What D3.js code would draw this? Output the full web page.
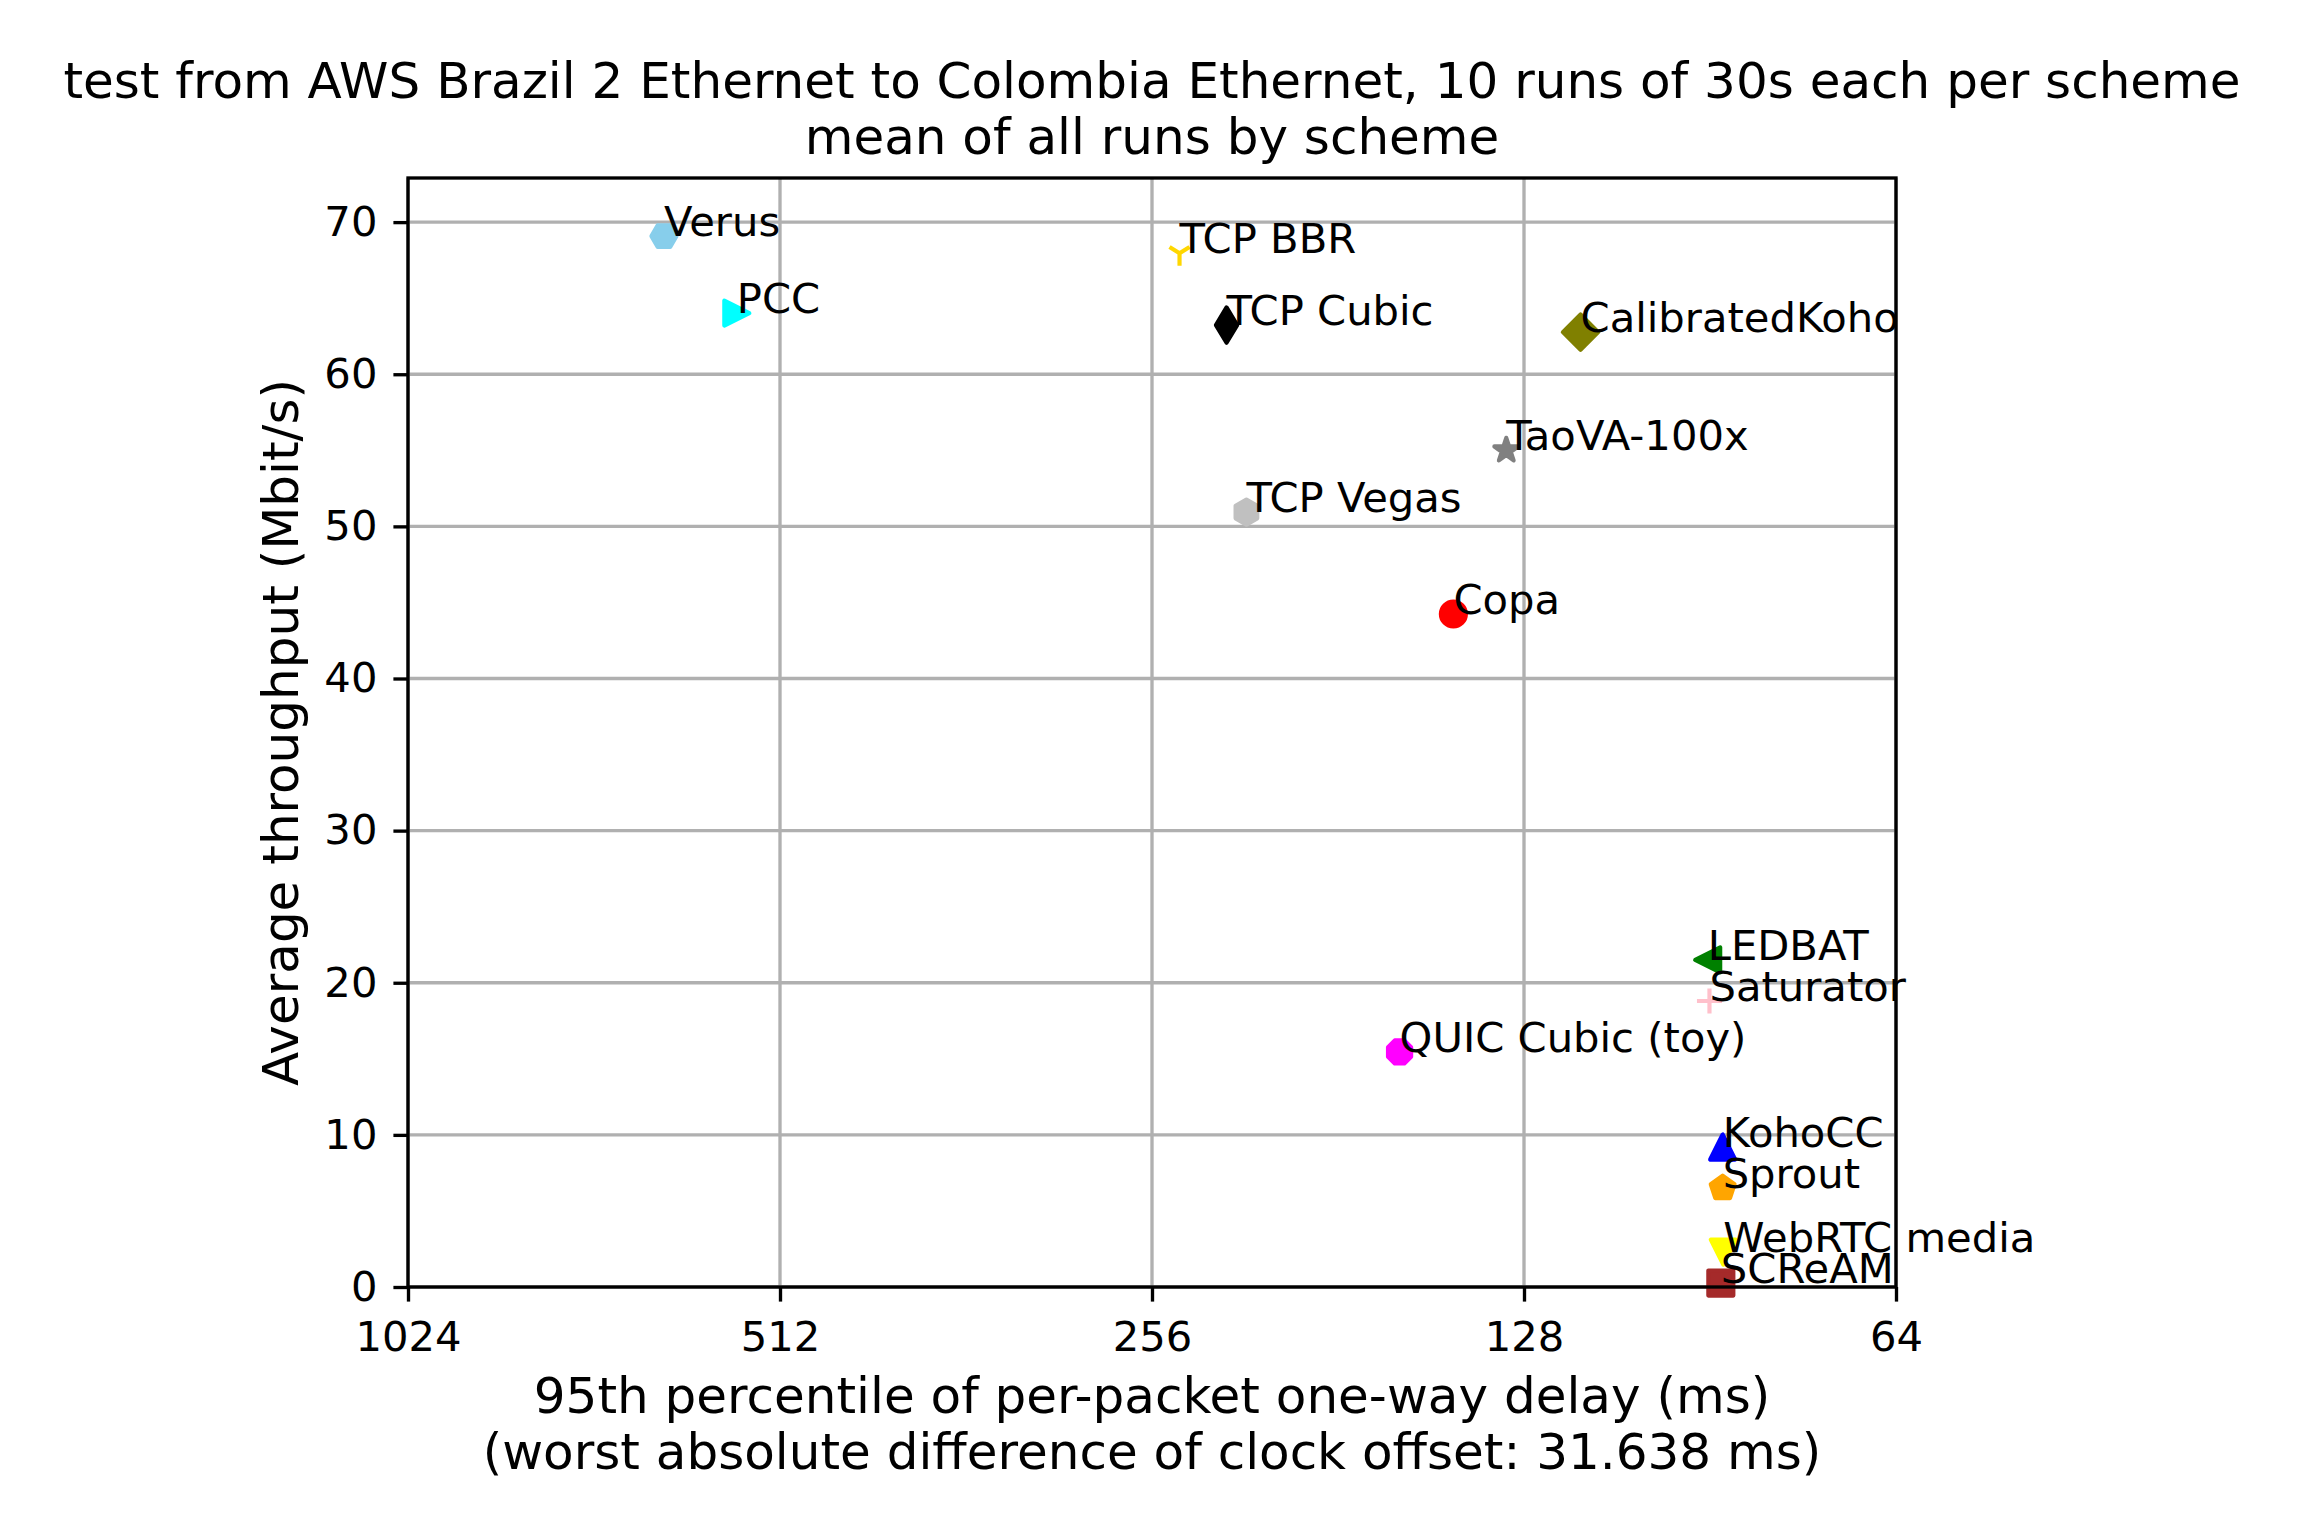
<!DOCTYPE html>
<html lang="en">
<head>
    <meta charset="UTF-8">
    <title>AWS Brazil 2 to Colombia</title>
    <script src="https://d3js.org/d3.v7.min.js"></script>
    <style>
        body {
            margin: 0;
            padding: 0;
            background: #fff;
            overflow: hidden;
        }

        svg text {
            font-family: "DejaVu Sans", sans-serif;
            fill: #000;
        }

        .tick line {
            stroke: #000;
            stroke-width: 3.33px;
        }

        .tick text {
            font-size: 41.7px;
        }

        .grid line {
            stroke: #b0b0b0;
            stroke-width: 3.33px;
        }

        .label {
            font-size: 41.7px;
        }

        .big {
            font-size: 50px;
        }
    </style>
</head>
<body>
<script>
    // data
    const schemes = ["Verus", "PCC", "TCP BBR", "TCP Cubic", "CalibratedKoho", "TaoVA-100x",
        "TCP Vegas", "Copa", "LEDBAT", "Saturator", "QUIC Cubic (toy)", "KohoCC",
        "Sprout", "WebRTC media", "SCReAM"];
    const delays = [635.6, 554.9, 243.2, 222.8, 115.2, 132.3,
        214.7, 146.0, 90.9, 90.6, 161.4, 88.4,
        88.4, 88.3, 88.7];
    const throughputs = [69.08, 64.02, 67.96, 63.23, 62.77, 55.0,
        50.94, 44.24, 21.5, 18.8, 15.45, 9.2,
        6.5, 2.3, 0.26];
    const colors = ["skyblue", "cyan", "gold", "black", "olive", "gray",
        "silver", "red", "green", "pink", "magenta", "blue",
        "orange", "yellow", "brown"];
    const markers = ["H", ">", "1", "d", "D", "*",
        "h", "o", "<", "+", "8", "^",
        "p", "v", "s"];

    const xTicks = [1024, 512, 256, 128, 64];
    const yTicks = [0, 10, 20, 30, 40, 50, 60, 70];

    const W = 2303, H = 1538;
    const plotL = 408, plotR = 1896, plotT = 178, plotB = 1287;

    const svg = d3.select("body").append("svg")
        .attr("width", W)
        .attr("height", H);

    const x = d3.scaleLog().base(2).domain([1024, 64]).range([plotL, plotR]);
    const y = d3.scaleLinear().domain([0, 72.9]).range([plotB, plotT]);

    // grid
    const grid = svg.append("g").attr("class", "grid");
    grid.selectAll("line.gx").data(xTicks).enter().append("line")
        .attr("x1", d => x(d)).attr("x2", d => x(d))
        .attr("y1", plotT).attr("y2", plotB);
    grid.selectAll("line.gy").data(yTicks).enter().append("line")
        .attr("x1", plotL).attr("x2", plotR)
        .attr("y1", d => y(d)).attr("y2", d => y(d));

    // matplotlib-like marker shapes, size 6pt
    const R = 12.5;
    function polygon(n, rotDeg) {
        const pts = [];
        for (let i = 0; i < n; i++) {
            const t = 2 * Math.PI * i / n + Math.PI / 2 + rotDeg * Math.PI / 180;
            pts.push([R * Math.cos(t), -R * Math.sin(t)]);
        }
        return pts;
    }
    function star() {
        const pts = [];
        for (let i = 0; i < 10; i++) {
            const t = 2 * Math.PI * i / 10 + Math.PI / 2;
            const r = i % 2 === 0 ? R : R * 0.381966;
            pts.push([r * Math.cos(t), -r * Math.sin(t)]);
        }
        return pts;
    }
    function closed(pts) {
        return "M" + pts.map(p => p[0].toFixed(2) + "," + p[1].toFixed(2)).join("L") + "Z";
    }
    function markerPath(m) {
        const hd = 2 * R * Math.SQRT1_2;
        switch (m) {
            case "o": return `M${R},0A${R},${R} 0 1,1 ${-R},0A${R},${R} 0 1,1 ${R},0Z`;
            case "s": return closed([[-R, -R], [R, -R], [R, R], [-R, R]]);
            case "D": return closed([[0, -hd], [hd, 0], [0, hd], [-hd, 0]]);
            case "d": return closed([[0, -hd], [hd * 0.6, 0], [0, hd], [-hd * 0.6, 0]]);
            case "^": return closed([[0, -R], [-R, R], [R, R]]);
            case "v": return closed([[0, R], [-R, -R], [R, -R]]);
            case "<": return closed([[-R, 0], [R, -R], [R, R]]);
            case ">": return closed([[R, 0], [-R, -R], [-R, R]]);
            case "p": return closed(polygon(5, 0));
            case "h": return closed(polygon(6, 0));
            case "H": return closed(polygon(6, 30));
            case "8": return closed(polygon(8, 22.5));
            case "*": return closed(star());
            case "+": return `M${-R},0L${R},0M0,${-R}L0,${R}`;
            case "1": return `M0,0L0,${R}M0,0L${0.8 * R},${-0.5 * R}M0,0L${-0.8 * R},${-0.5 * R}`;
        }
        return "";
    }
    const lineMarkers = new Set(["+", "1"]);

    const idx = d3.range(schemes.length);

    svg.append("g").selectAll("path").data(idx).enter().append("path")
        .attr("transform", i => `translate(${x(delays[i])},${y(throughputs[i])})`)
        .attr("d", i => markerPath(markers[i]))
        .attr("fill", i => lineMarkers.has(markers[i]) ? "none" : colors[i])
        .attr("stroke", i => colors[i])
        .attr("stroke-width", 4.17)
        .attr("stroke-linejoin", "round");

    // axes
    svg.append("g")
        .attr("transform", `translate(0,${plotB})`)
        .call(d3.axisBottom(x).tickValues(xTicks).tickFormat(d3.format("d")).tickSize(14.6).tickPadding(20))
        .call(g => g.select(".domain").remove());

    svg.append("g")
        .attr("transform", `translate(${plotL},0)`)
        .call(d3.axisLeft(y).tickValues(yTicks).tickSize(14.6).tickPadding(16))
        .call(g => g.select(".domain").remove());

    // frame
    svg.append("rect")
        .attr("x", plotL).attr("y", plotT)
        .attr("width", plotR - plotL).attr("height", plotB - plotT)
        .attr("fill", "none")
        .attr("stroke", "#000")
        .attr("stroke-width", 3.33);

    // labels on points
    svg.append("g").selectAll("text").data(idx).enter().append("text")
        .attr("class", "label")
        .attr("x", i => x(delays[i]))
        .attr("y", i => y(throughputs[i]))
        .text(i => schemes[i]);

    // title
    const cx = (plotL + plotR) / 2;
    svg.append("text").attr("class", "big").attr("x", cx).attr("y", 98)
        .attr("text-anchor", "middle")
        .text("test from AWS Brazil 2 Ethernet to Colombia Ethernet, 10 runs of 30s each per scheme");
    svg.append("text").attr("class", "big").attr("x", cx).attr("y", 154)
        .attr("text-anchor", "middle")
        .text("mean of all runs by scheme");

    // x label
    svg.append("text").attr("class", "big").attr("x", cx).attr("y", 1413)
        .attr("text-anchor", "middle")
        .text("95th percentile of per-packet one-way delay (ms)");
    svg.append("text").attr("class", "big").attr("x", cx).attr("y", 1469)
        .attr("text-anchor", "middle")
        .text("(worst absolute difference of clock offset: 31.638 ms)");

    // y label
    svg.append("text").attr("class", "big")
        .attr("transform", `translate(298,${(plotT + plotB) / 2}) rotate(-90)`)
        .attr("text-anchor", "middle")
        .text("Average throughput (Mbit/s)");
</script>
</body>
</html>
